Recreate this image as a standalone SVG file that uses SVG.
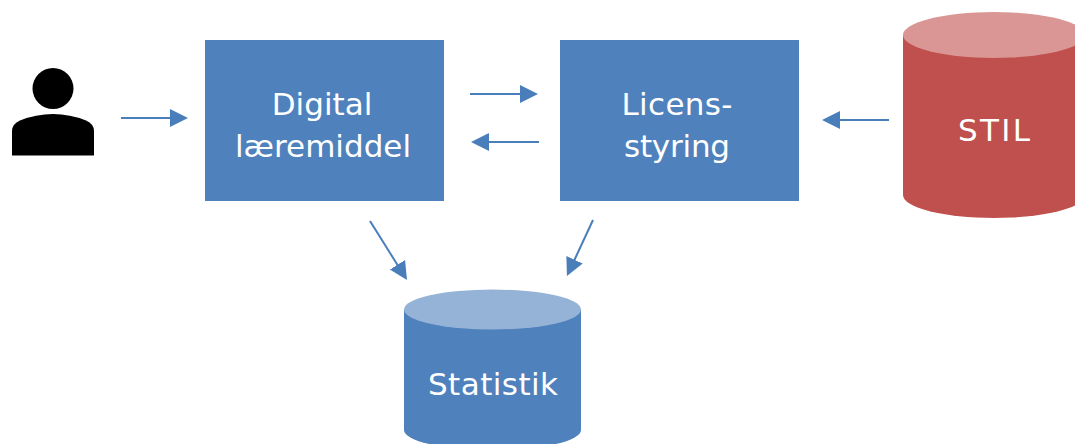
<svg xmlns="http://www.w3.org/2000/svg" width="1075" height="444" viewBox="0 0 1075 444">
<defs>
<marker id="arrow" markerUnits="userSpaceOnUse" markerWidth="20" markerHeight="20" refX="2" refY="10" orient="auto">
<path d="M0 1 L18 10 L0 19 Z" fill="#4a7ebb"/>
</marker>
</defs>
<style>
.box{fill:#4f81bd}
.label{fill:#fff;font-family:"DejaVu Sans",Verdana,sans-serif;font-size:31px;text-anchor:middle}
.conn{stroke:#4a7ebb;stroke-width:2;fill:none;marker-end:url(#arrow)}
</style>
<rect width="1075" height="444" fill="#fff"/>
<g id="person">
<circle cx="53" cy="88.5" r="20.5" fill="#000"/>
<path d="M12 155.500 L12 131 Q12 124 20 120.500 Q36 114 53 114 Q70 114 86 120.500 Q94 124 94 131 L94 155.500 Z" fill="#000"/>
</g>
<g id="digital-laeremiddel">
<rect class="box" x="205" y="40" width="239" height="161"/>
<text class="label" x="322" y="115">Digital</text>
<text class="label" x="323" y="157">læremiddel</text>
</g>
<g id="licensstyring">
<rect class="box" x="560" y="40" width="239" height="161"/>
<text class="label" x="677" y="115" textLength="111" lengthAdjust="spacing">Licens-</text>
<text class="label" x="677" y="157" textLength="106" lengthAdjust="spacing">styring</text>
</g>
<g id="stil">
<path d="M903 35 L903 195 A91 23 0 0 0 1085 195 L1085 35 Z" fill="#c0504d"/>
<ellipse cx="994" cy="35" rx="91" ry="23" fill="#d99694"/>
<text class="label" x="994" y="141" textLength="72" lengthAdjust="spacing">STIL</text>
</g>
<g id="statistik">
<path d="M404 309.500 L404 430 A88.500 20 0 0 0 581 430 L581 309.500 Z" fill="#4f81bd"/>
<ellipse cx="492.500" cy="309.500" rx="88.500" ry="20" fill="#95b3d7"/>
<text class="label" x="493" y="395" textLength="130" lengthAdjust="spacing">Statistik</text>
</g>
<g id="connectors">
<line class="conn" x1="121" y1="118" x2="172" y2="118"/>
<line class="conn" x1="470" y1="94" x2="522" y2="94"/>
<line class="conn" x1="539" y1="142" x2="487" y2="142"/>
<line class="conn" x1="889" y1="120" x2="838" y2="120"/>
<line class="conn" x1="370" y1="221" x2="398.500" y2="266.500"/>
<line class="conn" x1="593" y1="220" x2="573.700" y2="261.500"/>
</g>
</svg>
